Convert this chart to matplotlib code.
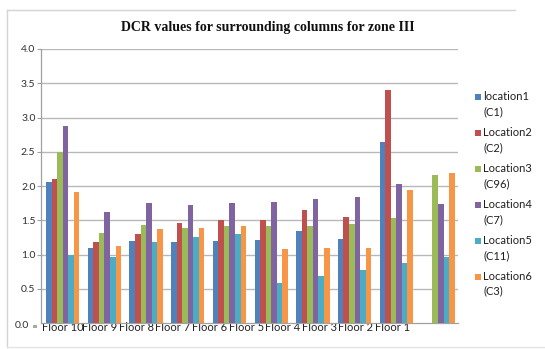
import numpy as np
import matplotlib
matplotlib.use("Agg")
import matplotlib.pyplot as plt
from matplotlib.patches import Rectangle
from matplotlib.lines import Line2D

# DCR values per floor for each column location
floors = ["Floor 10", "Floor 9", "Floor 8", "Floor 7", "Floor 6",
          "Floor 5", "Floor 4", "Floor 3", "Floor 2", "Floor 1"]
series_names = ["location1", "Location2", "Location3",
                "Location4", "Location5", "Location6"]
column_ids = ["(C1)", "(C2)", "(C96)", "(C7)", "(C11)", "(C3)"]
loc1 = [2.06, 1.09, 1.19, 1.18, 1.19, 1.21, 1.34, 1.23, 2.64, np.nan]
loc2 = [2.10, 1.18, 1.30, 1.46, 1.51, 1.51, 1.65, 1.55, 3.40, np.nan]
loc3 = [2.50, 1.31, 1.43, 1.39, 1.41, 1.41, 1.42, 1.45, 1.53, 2.16]
loc4 = [2.88, 1.62, 1.75, 1.72, 1.75, 1.77, 1.81, 1.84, 2.03, 1.73]
loc5 = [0.99, 0.96, 1.18, 1.25, 1.30, 0.58, 0.68, 0.78, 0.87, 0.97]
loc6 = [1.91, 1.13, 1.37, 1.38, 1.42, 1.08, 1.10, 1.09, 1.94, 2.19]
y_ticks = [0.5, 1.0, 1.5, 2.0, 2.5, 3.0, 3.5, 4.0]

series = [loc1, loc2, loc3, loc4, loc5, loc6]
colors = ["#4F81BD", "#C0504D", "#9BBB59", "#8064A2", "#4BACC6", "#F79646"]

W, H = 545, 349
fig = plt.figure(figsize=(W / 100, H / 100), dpi=100)
ui_font = "Lato"


def fx(px):
    return px / W


def fy(py):
    return 1 - py / H


ax = fig.add_axes([fx(41), fy(323), (458 - 41) / W, (323 - 49) / H])

n = len(series)
bw = 0.8 / n
x = np.arange(len(floors))
for k, (vals, c) in enumerate(zip(series, colors)):
    ax.bar(x - 0.4 + bw * (k + 0.5) + 0.02, vals, width=bw, color=c,
           linewidth=0, zorder=3)

ax.set_xlim(-0.5, len(floors) - 0.5)
ax.set_ylim(0, 4.0)
ax.set_yticks(y_ticks)
ax.set_yticklabels([f"{v:.1f}" for v in y_ticks], fontsize=7.5,
                   family=ui_font, color="#303030")
ax.yaxis.grid(True, color="#b8b8b8", linewidth=1.0, zorder=0)
ax.tick_params(axis="y", length=3, width=0.8, color="#a0a0a0", pad=1)

# category labels run together as a single line under the axis
label_pos = 0.035 + np.arange(len(floors)) * 0.877
ax.set_xticks(label_pos)
ax.set_xticklabels(floors, fontsize=8, family=ui_font, color="#202020")
ax.tick_params(axis="x", length=0, pad=-0.5)

for s in ["top", "right"]:
    ax.spines[s].set_visible(False)
for s in ["left", "bottom"]:
    ax.spines[s].set_color("#a0a0a0")
    ax.spines[s].set_linewidth(0.9)

# zero label and small key beside it
fig.text(fx(15), fy(326), "0.0", fontsize=7.5, family=ui_font,
         color="#303030", ha="left", va="center")
fig.patches.append(Rectangle((fx(33), fy(328)), 4 / W, 3 / H,
                             transform=fig.transFigure, facecolor="#a8a8a8",
                             edgecolor="none"))

fig.text(fx(268), fy(27), "DCR values for surrounding columns for zone III",
         fontsize=10, family="Liberation Serif", fontweight="bold",
         ha="center", va="center", color="#111111")

# legend: colour key beside a two-line label
for k, (name, cid, c) in enumerate(zip(series_names, column_ids, colors)):
    y0 = 97 + 35.9 * k
    fig.patches.append(Rectangle((fx(475), fy(y0 + 3)), 6 / W, 6 / H,
                                 transform=fig.transFigure, facecolor=c,
                                 edgecolor="none"))
    fig.text(fx(483), fy(y0), name, fontsize=8, family=ui_font,
             color="#202020", ha="left", va="center")
    fig.text(fx(483), fy(y0 + 14.7), cid, fontsize=8, family=ui_font,
             color="#202020", ha="left", va="center")

# chart frame
frame_c = "#d4d4d4"
fig.add_artist(Line2D([fx(7), fx(515)], [fy(10), fy(10)],
                      transform=fig.transFigure, color=frame_c, lw=1))
fig.add_artist(Line2D([fx(7), fx(7)], [fy(10), fy(347)],
                      transform=fig.transFigure, color=frame_c, lw=1))
fig.add_artist(Line2D([fx(7), 1.0], [fy(347), fy(347)],
                      transform=fig.transFigure, color="#e4e4e4", lw=1))

fig.savefig("out.png", dpi=100)
